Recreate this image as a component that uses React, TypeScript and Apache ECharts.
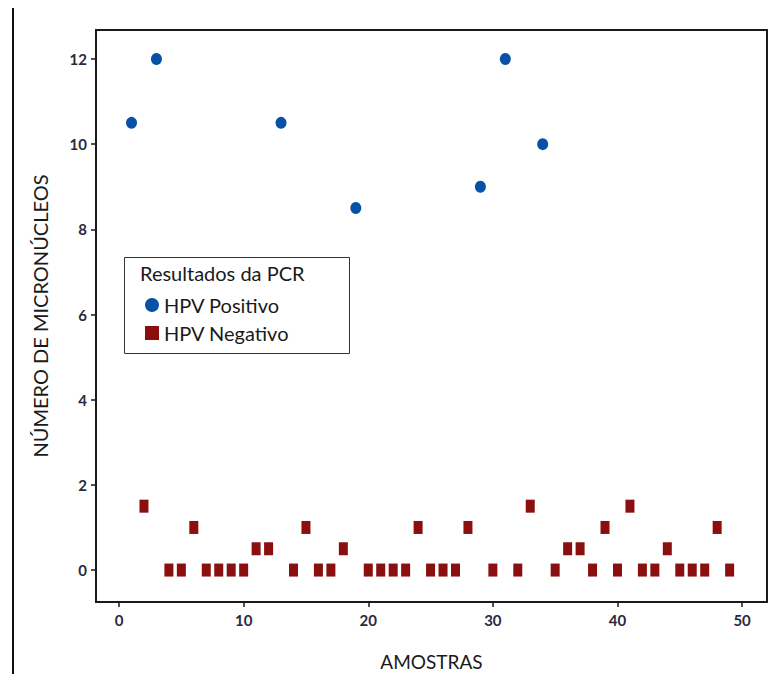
import React, { useEffect, useRef } from "react";
import * as echarts from "echarts";

const positiveSamples = [1, 3, 13, 19, 29, 31, 34];
const positiveValues = [10.5, 12, 10.5, 8.5, 9, 12, 10];

const negativeSamples = [
  2, 4, 5, 6, 7, 8, 9, 10, 11, 12, 14, 15, 16, 17, 18, 20, 21, 22, 23, 24, 25,
  26, 27, 28, 30, 32, 33, 35, 36, 37, 38, 39, 40, 41, 42, 43, 44, 45, 46, 47,
  48, 49,
];
const negativeValues = [
  1.5, 0, 0, 1, 0, 0, 0, 0, 0.5, 0.5, 0, 1, 0, 0, 0.5, 0, 0, 0, 0, 1, 0, 0, 0,
  1, 0, 0, 1.5, 0, 0.5, 0.5, 0, 1, 0, 1.5, 0, 0, 0.5, 0, 0, 0, 1, 0,
];

const xTicks = [0, 10, 20, 30, 40, 50];
const yTicks = [0, 2, 4, 6, 8, 10, 12];

const seriesNames = ["HPV Positivo", "HPV Negativo"];
const legendTitle = "Resultados da PCR";
const xTitle = "AMOSTRAS";
const yTitle = "NÚMERO DE MICRONÚCLEOS";

const BLUE = "#0752a6";
const RED = "#8b0f0f";
const FONT = "Lato, 'Open Sans', sans-serif";

export default function App() {
  const ref = useRef<HTMLDivElement>(null);
  useEffect(() => {
    if (!ref.current) return;
    const chart = echarts.init(ref.current, undefined, { renderer: "svg" });
    const tickLabel = {
      color: "#2a2a3e",
      fontFamily: FONT,
      fontSize: 15,
      fontWeight: "bold" as const,
    };
    chart.setOption({
      animation: false,
      backgroundColor: "#ffffff",
      grid: {
        left: 96,
        right: 14,
        top: 30,
        bottom: 80,
        show: true,
        borderColor: "#1a1a1a",
        borderWidth: 2,
        backgroundColor: "transparent",
      },
      xAxis: {
        type: "value",
        min: -1.85,
        max: 52,
        name: xTitle,
        nameLocation: "middle",
        nameGap: 50,
        nameTextStyle: { fontFamily: FONT, fontSize: 19, color: "#1a1a1a" },
        axisLine: { show: true, onZero: false, lineStyle: { color: "#1a1a1a", width: 2 } },
        splitLine: { show: false },
        axisTick: {
          show: true,
          length: 5,
          customValues: xTicks,
          lineStyle: { color: "#1a1a1a", width: 1.5 },
        },
        axisLabel: { ...tickLabel, margin: 10, customValues: xTicks },
      },
      yAxis: {
        type: "value",
        min: -0.75,
        max: 12.68,
        name: yTitle,
        nameLocation: "middle",
        nameGap: 46,
        nameRotate: 90,
        nameTextStyle: { fontFamily: FONT, fontSize: 20, color: "#1a1a1a" },
        axisLine: { show: true, onZero: false, lineStyle: { color: "#1a1a1a", width: 2 } },
        splitLine: { show: false },
        axisTick: {
          show: true,
          length: 5,
          customValues: yTicks,
          lineStyle: { color: "#1a1a1a", width: 1.5 },
        },
        axisLabel: { ...tickLabel, margin: 9, customValues: yTicks },
      },
      legend: {
        show: true,
        z: 20,
        orient: "vertical",
        left: 145,
        top: 295,
        itemWidth: 14,
        itemHeight: 14,
        itemGap: 8,
        padding: 0,
        textStyle: { fontFamily: FONT, fontSize: 20, color: "#1a1a1a" },
        data: [
          { name: seriesNames[0], icon: "circle" },
          { name: seriesNames[1], icon: "rect" },
        ],
      },
      graphic: {
        z: 5,
        elements: [
          {
            type: "rect",
            shape: { x: 124.5, y: 257.5, width: 225, height: 96 },
            style: { fill: "#ffffff", stroke: "#333", lineWidth: 1 },
            silent: true,
          },
          {
            type: "text",
            x: 140,
            y: 273,
            style: {
              text: legendTitle,
              fontFamily: FONT,
              fontSize: 20,
              fill: "#1a1a1a",
              verticalAlign: "middle",
            },
          },
        ],
      },
      series: [
        {
          name: seriesNames[0],
          type: "scatter",
          symbol: "circle",
          symbolSize: [11, 12],
          itemStyle: { color: BLUE, opacity: 1 },
          data: positiveSamples.map((s, i) => [s, positiveValues[i]]),
        },
        {
          name: seriesNames[1],
          type: "scatter",
          symbol: "rect",
          symbolSize: [9, 13],
          itemStyle: { color: RED, opacity: 1 },
          data: negativeSamples.map((s, i) => [s, negativeValues[i]]),
        },
      ],
    });
    return () => chart.dispose();
  }, []);
  return (
    <div style={{ position: "relative", width: 781, height: 682, margin: -8, overflow: "hidden" }}>
      <div ref={ref} style={{ width: 781, height: 682 }} />
      <div
        style={{
          position: "absolute",
          left: 12,
          top: 4,
          width: 764,
          height: 700,
          border: "2px solid #111",
          pointerEvents: "none",
        }}
      />
    </div>
  );
}
